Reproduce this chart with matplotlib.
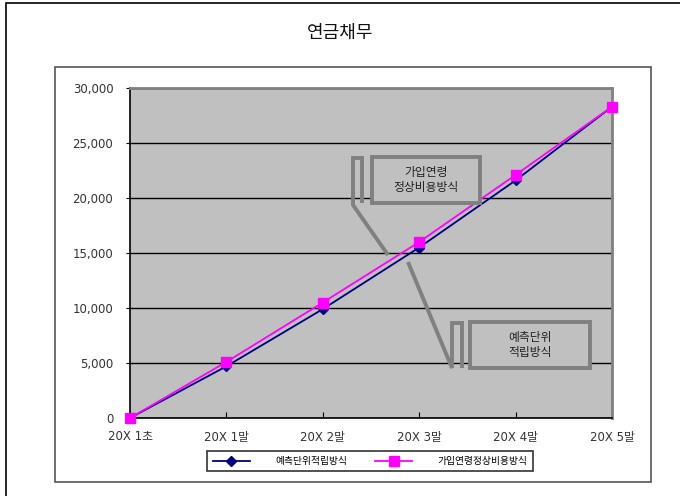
import matplotlib
matplotlib.use("Agg")
import matplotlib.pyplot as plt
from matplotlib.lines import Line2D
from matplotlib.patches import Rectangle

plt.rcParams['font.family'] = ['Noto Sans CJK KR', 'DejaVu Sans']

categories = ["20X 1초", "20X 1말", "20X 2말", "20X 3말", "20X 4말", "20X 5말"]
series_names = ["예측단위적립방식", "가입연령정상비용방식"]
puc_values = [0, 4700, 9900, 15500, 21600, 28300]
ean_values = [0, 5100, 10500, 16000, 22100, 28300]
y_ticks = [0, 5000, 10000, 15000, 20000, 25000, 30000]
title = "연금채무"

W, H = 680, 496
fig = plt.figure(figsize=(W / 100, H / 100), dpi=100)
fig.patch.set_facecolor("white")

def fx(x):
    return x / W

def fy(y):
    return 1 - y / H

tick_font = dict(family=['DejaVu Sans', 'Noto Sans CJK KR'], size=8.5)

# plot area
L, R, T, B = 130, 612, 88, 418
ax = fig.add_axes([fx(L), fy(B), fx(R) - fx(L), fy(T) - fy(B)])
ax.set_facecolor("#C0C0C0")
xs = list(range(len(categories)))
ax.plot(xs, puc_values, color="#000080", lw=1.3, marker="D", ms=5,
        markerfacecolor="#000080", markeredgecolor="#000080", label=series_names[0], zorder=3, clip_on=False)
ax.plot(xs, ean_values, color="#FF00FF", lw=1.3, marker="s", ms=7,
        markerfacecolor="#FF00FF", markeredgecolor="#FF00FF", label=series_names[1], zorder=4, clip_on=False)
ax.set_xlim(0, len(categories) - 1)
ax.set_ylim(0, 30000)
ax.set_xticks(xs)
ax.set_xticklabels(categories, color="#333333", fontdict=tick_font)
ax.set_yticks(y_ticks)
ax.set_yticklabels([f"{v:,}" for v in y_ticks], color="#333333", fontdict=tick_font)
ax.yaxis.grid(True, color="black", lw=1)
ax.set_axisbelow(True)
ax.tick_params(axis="x", direction="in", length=4, color="black", pad=9)
ax.tick_params(axis="y", direction="out", length=3, color="black", pad=9)
for s in ["left", "bottom"]:
    ax.spines[s].set_color("black")
    ax.spines[s].set_linewidth(1.2)
for s in ["right", "top"]:
    ax.spines[s].set_color("#808080")
    ax.spines[s].set_linewidth(2)

# title
fig.text(fx(340), fy(33), title, ha="center", va="center", fontsize=13, color="#111111")

# legend
leg = fig.legend(loc="center", bbox_to_anchor=(fx(370), fy(461)), ncol=2, fontsize=7,
                 frameon=True, fancybox=False, edgecolor="black", handlelength=3.8,
                 columnspacing=2.9, borderpad=0.55, handletextpad=2.6)
leg.get_frame().set_linewidth(1.2)

def seg(pts, color="#808080", lw=2.8):
    fig.add_artist(Line2D([fx(p[0]) for p in pts], [fy(p[1]) for p in pts],
                          color=color, lw=lw, solid_capstyle="butt", solid_joinstyle="miter", zorder=10))

# callout 1: 가입연령 정상비용방식
fig.add_artist(Rectangle((fx(372), fy(203)), fx(480) - fx(372), fy(157) - fy(203),
                         facecolor="#C0C0C0", edgecolor="#808080", lw=2.8, zorder=10))
fig.text(fx(426), fy(180), "가입연령\n정상비용방식", ha="center", va="center", fontsize=8.5,
         color="#222222", zorder=11, linespacing=1.2)
seg([(388, 255), (353, 205), (353, 158), (362, 158), (362, 203)])

# callout 2: 예측단위 적립방식
fig.add_artist(Rectangle((fx(470), fy(368)), fx(590) - fx(470), fy(322) - fy(368),
                         facecolor="#C0C0C0", edgecolor="#808080", lw=2.8, zorder=10))
fig.text(fx(530), fy(345), "예측단위\n적립방식", ha="center", va="center", fontsize=8.5,
         color="#222222", zorder=11, linespacing=1.2)
seg([(408, 262), (452, 368), (452, 323), (462, 323), (462, 368)])

# chart frame
fig.add_artist(Rectangle((fx(55), fy(482)), fx(651) - fx(55), fy(67) - fy(482),
                         facecolor="none", edgecolor="#555555", lw=1.2, zorder=1))
# outer document border (left and top)
seg([(6, 496), (6, 3), (680, 3)], color="black", lw=1.2)

fig.savefig("out.png", dpi=100)
